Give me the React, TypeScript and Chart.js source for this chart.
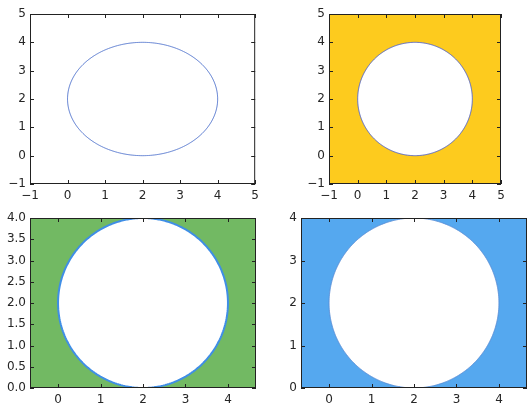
import { useEffect, useRef } from "react";
import { Chart, registerables } from "chart.js";

Chart.register(...registerables);

// Circle patch drawn in every panel: centre (x, y) and radius in data units
const circleCenter = [2, 2];
const circleRadius = 2;
const circleSteps = 240;

// Axis limits per panel: [min, max]
const xLimitsTop = [-1, 5];
const yLimitsTop = [-1, 5];
const xLimitsBottom = [-0.66, 4.66];
const yLimitsBottom = [0, 4];

// Tick values
const ticksTop = [-1, 0, 1, 2, 3, 4, 5];
const ticksBottomX = [0, 1, 2, 3, 4];
const ticksGreenY = [0, 0.5, 1, 1.5, 2, 2.5, 3, 3.5, 4];
const ticksBlueY = [0, 1, 2, 3, 4];

type Panel = {
  left: number;
  top: number;
  width: number;
  height: number;
  padTop: number;
  padRight: number;
  yWidth: number;
  xHeight: number;
  xLim: number[];
  yLim: number[];
  xTicks: number[];
  yTicks: number[];
  yDecimals: number;
  bg: string | null;
  fill: string | null;
  edge: string;
  edgeWidth: number;
};

const panels: Panel[] = [
  {
    left: 0, top: 0, width: 264, height: 206, padTop: 14, padRight: 8, yWidth: 30, xHeight: 22,
    xLim: xLimitsTop, yLim: yLimitsTop, xTicks: ticksTop, yTicks: ticksTop, yDecimals: 0,
    bg: null, fill: null, edge: "#4f72cc", edgeWidth: 1,
  },
  {
    left: 264, top: 0, width: 264, height: 206, padTop: 14, padRight: 27, yWidth: 65, xHeight: 22,
    xLim: xLimitsTop, yLim: yLimitsTop, xTicks: ticksTop, yTicks: ticksTop, yDecimals: 0,
    bg: "#fdcb1e", fill: "#ffffff", edge: "#5566c8", edgeWidth: 1,
  },
  {
    left: 0, top: 204, width: 264, height: 202, padTop: 14, padRight: 8, yWidth: 30, xHeight: 18,
    xLim: xLimitsBottom, yLim: yLimitsBottom, xTicks: ticksBottomX, yTicks: ticksGreenY, yDecimals: 1,
    bg: "#72b963", fill: "#ffffff", edge: "#3f8ee6", edgeWidth: 2,
  },
  {
    left: 264, top: 204, width: 264, height: 202, padTop: 14, padRight: 1, yWidth: 37, xHeight: 18,
    xLim: xLimitsBottom, yLim: yLimitsBottom, xTicks: ticksBottomX, yTicks: ticksBlueY, yDecimals: 0,
    bg: "#55a8ef", fill: "#ffffff", edge: "#5a8fd8", edgeWidth: 1,
  },
];

function circlePoints() {
  const pts: { x: number; y: number }[] = [];
  for (let i = 0; i <= circleSteps; i++) {
    const t = (i / circleSteps) * Math.PI * 2;
    pts.push({
      x: circleCenter[0] + circleRadius * Math.cos(t),
      y: circleCenter[1] + circleRadius * Math.sin(t),
    });
  }
  return pts;
}

function fmt(v: number, decimals: number) {
  return v.toFixed(decimals).replace("-", "\u2212");
}

// Axes face colour, frame and inward tick marks on all four sides
const framePlugin = {
  id: "frame",
  beforeDraw(chart: any, _args: any, opts: any) {
    if (!opts.bg) return;
    const { ctx, chartArea: a } = chart;
    ctx.save();
    ctx.fillStyle = opts.bg;
    ctx.fillRect(a.left, a.top, a.right - a.left, a.bottom - a.top);
    ctx.restore();
  },
  afterDraw(chart: any) {
    const { ctx, chartArea: a, scales } = chart;
    const len = 4;
    ctx.save();
    ctx.strokeStyle = "#222222";
    ctx.lineWidth = 1;
    ctx.beginPath();
    for (const t of scales.x.ticks) {
      const px = Math.round(scales.x.getPixelForValue(t.value)) + 0.5;
      ctx.moveTo(px, a.bottom);
      ctx.lineTo(px, a.bottom - len);
      ctx.moveTo(px, a.top);
      ctx.lineTo(px, a.top + len);
    }
    for (const t of scales.y.ticks) {
      const py = Math.round(scales.y.getPixelForValue(t.value)) + 0.5;
      ctx.moveTo(a.left, py);
      ctx.lineTo(a.left + len, py);
      ctx.moveTo(a.right, py);
      ctx.lineTo(a.right - len, py);
    }
    ctx.stroke();
    ctx.strokeRect(a.left + 0.5, a.top + 0.5, a.right - a.left - 1, a.bottom - a.top - 1);
    ctx.restore();
  },
};

function PanelChart({ p }: { p: Panel }) {
  const ref = useRef<HTMLCanvasElement | null>(null);

  useEffect(() => {
    if (!ref.current) return;
    const chart = new Chart(ref.current, {
      type: "scatter",
      data: {
        datasets: [
          {
            data: circlePoints(),
            showLine: true,
            pointRadius: 0,
            // a tiny tension keeps the smooth path renderer (no pixel snapping)
            tension: 0.0001,
            borderColor: p.edge,
            borderWidth: p.edgeWidth,
            backgroundColor: p.fill ?? "transparent",
            fill: p.fill ? "shape" : false,
          },
        ],
      },
      options: {
        responsive: false,
        animation: false,
        devicePixelRatio: 1,
        layout: { padding: { top: p.padTop, right: p.padRight, bottom: 0, left: 0 } },
        plugins: {
          legend: { display: false },
          tooltip: { enabled: false },
          frame: { bg: p.bg },
        } as any,
        scales: {
          x: {
            type: "linear",
            min: p.xLim[0],
            max: p.xLim[1],
            grid: { display: false, drawTicks: false },
            border: { display: false },
            afterBuildTicks: (s: any) => {
              s.ticks = p.xTicks.map((v) => ({ value: v }));
            },
            afterFit: (s: any) => {
              s.height = p.xHeight;
            },
            ticks: {
              autoSkip: false,
              maxRotation: 0,
              padding: 5,
              color: "#262626",
              font: { family: "'DejaVu Sans', sans-serif", size: 12 },
              callback: (v: any) => fmt(Number(v), 0),
            },
          },
          y: {
            type: "linear",
            min: p.yLim[0],
            max: p.yLim[1],
            grid: { display: false, drawTicks: false },
            border: { display: false },
            afterBuildTicks: (s: any) => {
              s.ticks = p.yTicks.map((v) => ({ value: v }));
            },
            afterFit: (s: any) => {
              s.width = p.yWidth;
            },
            ticks: {
              autoSkip: false,
              padding: 4,
              color: "#262626",
              font: { family: "'DejaVu Sans', sans-serif", size: 12 },
              callback: (v: any) => fmt(Number(v), p.yDecimals),
            },
          },
        },
      },
      plugins: [framePlugin],
    });
    return () => chart.destroy();
  }, [p]);

  return (
    <canvas
      ref={ref}
      width={p.width}
      height={p.height}
      style={{
        position: "absolute",
        left: p.left,
        top: p.top,
        width: p.width,
        height: p.height,
      }}
    />
  );
}

export default function App() {
  return (
    <div
      style={{
        position: "absolute",
        left: 0,
        top: 0,
        width: 528,
        height: 406,
        background: "#ffffff",
        overflow: "hidden",
      }}
    >
      {panels.map((p, i) => (
        <PanelChart key={i} p={p} />
      ))}
    </div>
  );
}
